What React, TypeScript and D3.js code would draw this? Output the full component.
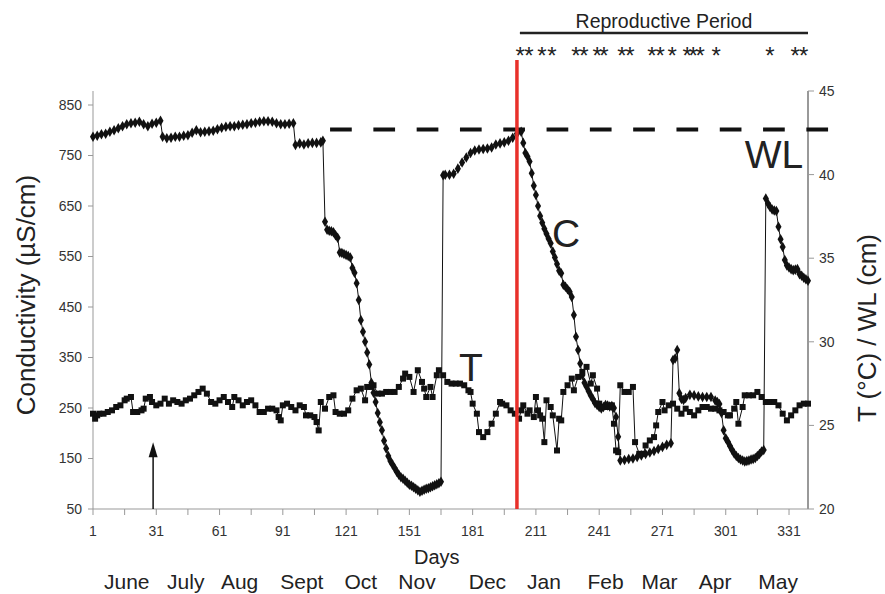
import React from 'react'
import * as d3 from 'd3'

// conductivity (µS/cm), [day, value]
const conductivity: [number, number][] = [
  [1, 787], [3, 789], [5, 792], [7, 793], [9, 797], [11, 800], [13, 804], [15, 808], [17, 812], [19, 814],
  [21, 815], [23, 817], [25, 812], [27, 808], [29, 813], [31, 815], [33, 819], [34, 787], [36, 784], [38, 785],
  [40, 787], [42, 787], [44, 789], [46, 790], [48, 795], [50, 800], [52, 796], [54, 797], [56, 798], [58, 799],
  [60, 802], [62, 805], [64, 807], [66, 808], [68, 808], [70, 810], [72, 811], [74, 812], [76, 814], [78, 815],
  [80, 817], [82, 818], [84, 818], [86, 817], [88, 814], [90, 812], [92, 812], [94, 813], [96, 814], [97, 771],
  [99, 774], [101, 772], [103, 774], [105, 775], [107, 775], [109, 776], [110, 779], [111, 619], [112, 603], [113, 601],
  [114, 600], [115, 598], [116, 592], [117, 587], [118, 558], [119, 557], [120, 555], [121, 553], [122, 551], [123, 548],
  [124, 527], [125, 518], [126, 497], [127, 464], [128, 424], [129, 401], [130, 381], [131, 360], [132, 336], [133, 300],
  [134, 280], [135, 262], [136, 240], [137, 222], [138, 206], [139, 185], [140, 170], [141, 155], [142, 145], [143, 138],
  [144, 131], [145, 124], [146, 118], [147, 113], [148, 110], [149, 106], [150, 102], [151, 98], [152, 96], [153, 93],
  [154, 90], [155, 87], [156, 84], [157, 86], [158, 88], [159, 90], [160, 91], [161, 93], [162, 95], [163, 97],
  [164, 99], [165, 101], [166, 104], [167, 711], [168, 712], [170, 712], [172, 714], [174, 724], [176, 736], [178, 746],
  [180, 755], [182, 760], [184, 762], [186, 763], [188, 764], [190, 766], [192, 772], [194, 774], [196, 776], [198, 779],
  [200, 785], [202, 793], [204, 797], [205, 775], [206, 755], [207, 748], [208, 738], [209, 715], [210, 690], [211, 672],
  [212, 650], [213, 630], [214, 617], [215, 605], [216, 595], [217, 585], [218, 576], [219, 560], [220, 548], [221, 535],
  [222, 522], [223, 517], [224, 494], [225, 490], [226, 485], [227, 480], [228, 470], [229, 434], [230, 391], [231, 365],
  [232, 338], [233, 315], [234, 300], [235, 292], [236, 283], [237, 275], [238, 268], [239, 260], [240, 256], [241, 252],
  [242, 249], [243, 252], [244, 256], [245, 255], [246, 253], [247, 254], [248, 250], [249, 232], [250, 193], [251, 146],
  [253, 147], [255, 149], [257, 150], [259, 153], [261, 156], [263, 159], [265, 162], [267, 165], [269, 169], [271, 173],
  [273, 177], [275, 180], [276, 345], [277, 348], [278, 365], [279, 279], [280, 268], [281, 266], [282, 270], [284, 276],
  [286, 275], [288, 273], [290, 272], [292, 272], [294, 272], [296, 265], [297, 262], [298, 258], [299, 240], [300, 206],
  [301, 190], [302, 183], [303, 175], [304, 167], [305, 160], [306, 155], [307, 151], [308, 148], [309, 146], [310, 144],
  [311, 145], [312, 146], [313, 148], [314, 149], [315, 151], [316, 155], [317, 159], [318, 164], [319, 167], [320, 665],
  [321, 655], [322, 648], [323, 643], [324, 641], [325, 640], [326, 609], [327, 584], [328, 569], [329, 543], [330, 532],
  [331, 528], [332, 525], [333, 523], [334, 524], [335, 525], [336, 515], [337, 512], [338, 508], [339, 505], [340, 502],
]

// temperature (°C), [day, value]
const temperature: [number, number][] = [
  [1, 25.7], [2, 25.4], [3, 25.6], [4, 25.7], [6, 25.7], [8, 25.8], [10, 25.9], [12, 26.1], [14, 26.2], [16, 26.5],
  [17, 26.6], [19, 26.7], [20, 25.8], [22, 25.8], [24, 25.9], [25, 26.0], [26, 26.6], [28, 26.7], [29, 26.4], [31, 26.2],
  [33, 26.3], [35, 26.6], [37, 26.3], [39, 26.5], [41, 26.4], [43, 26.3], [45, 26.5], [47, 26.6], [49, 26.8], [51, 27.0],
  [53, 27.2], [55, 26.9], [57, 26.4], [59, 26.3], [61, 26.5], [63, 26.7], [65, 26.4], [67, 26.1], [68, 26.7], [70, 26.5],
  [72, 26.2], [74, 26.4], [76, 26.5], [78, 26.2], [80, 25.8], [82, 25.8], [84, 26.0], [86, 26.0], [88, 25.9], [89, 25.5],
  [90, 25.3], [91, 26.2], [93, 26.3], [95, 26.1], [97, 25.9], [99, 26.2], [101, 26.1], [102, 25.6], [104, 25.6], [106, 25.5],
  [107, 25.2], [108, 24.7], [109, 26.4], [111, 26.0], [113, 26.7], [115, 26.8], [116, 25.8], [118, 25.7], [120, 25.7], [122, 25.9],
  [124, 26.6], [126, 27.1], [128, 27.2], [130, 26.5], [131, 27.3], [133, 27.3], [134, 27.4], [136, 26.9], [138, 26.9], [140, 27.0],
  [142, 27.0], [144, 27.0], [146, 27.3], [148, 27.8], [149, 28.1], [151, 27.9], [153, 27.0], [155, 28.3], [157, 27.6], [158, 27.2],
  [159, 26.7], [161, 27.3], [162, 26.7], [164, 28.0], [165, 28.3], [167, 28.0], [169, 27.6], [171, 27.5], [173, 27.5], [175, 27.5],
  [177, 27.4], [179, 27.1], [180, 27.0], [181, 26.3], [183, 25.7], [184, 24.6], [186, 24.3], [188, 24.6], [190, 25.1], [192, 25.7],
  [194, 26.4], [195, 26.3], [197, 26.2], [199, 25.9], [201, 25.7], [203, 25.4], [204, 25.9], [205, 26.2], [207, 25.7], [208, 25.9],
  [210, 25.5], [211, 26.7], [212, 25.9], [213, 25.6], [214, 25.4], [215, 24.0], [216, 26.5], [218, 26.1], [219, 25.6], [221, 23.5],
  [222, 25.4], [223, 25.3], [224, 27.0], [226, 27.4], [228, 27.8], [229, 27.1], [231, 27.9], [233, 28.2], [235, 28.5], [237, 27.5],
  [238, 28.0], [240, 27.2], [241, 26.3], [243, 26.1], [245, 26.1], [247, 26.2], [248, 25.1], [249, 23.5], [250, 23.4], [251, 27.4],
  [253, 27.0], [255, 27.0], [257, 27.3], [258, 24.0], [260, 23.3], [262, 23.3], [263, 23.8], [265, 24.1], [267, 24.3], [268, 25.0],
  [269, 25.8], [271, 26.4], [272, 25.9], [274, 26.2], [276, 26.3], [278, 26.0], [280, 25.7], [282, 26.0], [284, 25.8], [286, 25.6],
  [288, 25.9], [290, 26.1], [292, 26.1], [294, 26.0], [296, 26.0], [298, 25.9], [300, 25.8], [302, 25.6], [303, 25.6], [305, 26.0],
  [306, 26.4], [307, 25.1], [309, 26.1], [310, 26.8], [312, 26.8], [314, 26.8], [316, 27.0], [318, 26.7], [320, 26.4], [322, 26.4],
  [324, 26.4], [326, 26.2], [328, 25.7], [330, 25.3], [332, 25.6], [334, 25.9], [336, 26.2], [338, 26.3], [340, 26.3],
]

// water level (cm), dashed line
const waterLevel = 42.7
const wlStartDay = 113.4
const wlEndDay = 350.5

const reproStartDay = 203.4
const reproEndDay = 340
const spawningDays = [203.5, 207.7, 213.9, 218.6, 230, 233.8, 240, 243.3, 251.8, 255.6, 266, 269.9, 275.6, 282.7, 285.5, 288.9, 296.5, 322, 333.9, 338]
const redLineDay = 202
const arrowDay = 29.5

const dayTicks = [1, 31, 61, 91, 121, 151, 181, 211, 241, 271, 301, 331]
const dayMinorTicks = [1, 16, 31, 46, 61, 76, 91, 106, 121, 136, 151, 166, 181, 196, 211, 226, 241, 256, 271, 286, 301, 316, 331]
const condTicks = [50, 150, 250, 350, 450, 550, 650, 750, 850]
const rightTicks = [20, 25, 30, 35, 40, 45]
const months: [string, number][] = [
  ['June', 17], ['July', 45], ['Aug', 70.5], ['Sept', 100], ['Oct', 128], ['Nov', 154.6],
  ['Dec', 188], ['Jan', 214.8], ['Feb', 244], ['Mar', 269.6], ['Apr', 296], ['May', 325.8],
]

const W = 885
const H = 594
const font = '"Liberation Sans", Arial, sans-serif'

export default function App() {
  const x = d3.scaleLinear().domain([1, 340]).range([93, 808])
  const yC = d3.scaleLinear().domain([50, 850]).range([509, 105])
  const yR = d3.scaleLinear().domain([20, 45]).range([509, 91])
  const plotTop = yR(45)
  const plotBottom = yR(20)

  const cLine = d3.line<[number, number]>().x(d => x(d[0])).y(d => yC(d[1]))
  const tLine = d3.line<[number, number]>().x(d => x(d[0])).y(d => yR(d[1]))
  const diamond = d3.symbol().type(d3.symbolDiamond).size(32)() as string
  const square = d3.symbol().type(d3.symbolSquare).size(36)() as string

  const ax = x(arrowDay)
  const arrowTip = yC(182)

  return (
    <svg width={W} height={H} style={{ display: 'block', fontFamily: font }}>
      <style>{`body{margin:0}`}</style>
      <rect width={W} height={H} fill="#fff" />

      {/* left axis */}
      <line x1={x(1)} x2={x(1)} y1={plotTop} y2={plotBottom} stroke="#999" strokeWidth={1} />
      {condTicks.map(t => (
        <g key={t} transform={`translate(0,${yC(t)})`}>
          <line x1={x(1) - 5} x2={x(1)} stroke="#999" />
          <text x={x(1) - 11} dy="0.35em" textAnchor="end" fontSize={14} fill="#333">{t}</text>
        </g>
      ))}

      {/* right axis */}
      <line x1={x(340)} x2={x(340)} y1={plotTop} y2={plotBottom} stroke="#999" strokeWidth={2} />
      {rightTicks.map(t => (
        <g key={t} transform={`translate(0,${yR(t)})`}>
          <line x1={x(340)} x2={x(340) + 6} stroke="#999" />
          <text x={x(340) + 11} dy="0.35em" textAnchor="start" fontSize={14} fill="#333">{t}</text>
        </g>
      ))}

      {/* x axis */}
      <line x1={x(1)} x2={x(340)} y1={plotBottom} y2={plotBottom} stroke="#999" />
      {dayMinorTicks.map(t => (
        <line key={t} x1={x(t)} x2={x(t)} y1={plotBottom} y2={plotBottom + 6} stroke="#999" />
      ))}
      {dayTicks.map(t => (
        <text key={t} x={x(t)} y={plotBottom + 27} textAnchor="middle" fontSize={14} fill="#333">{t}</text>
      ))}
      <text x={x(164)} y={564} textAnchor="middle" fontSize={20} fill="#222">Days</text>
      {months.map(([m, d]) => (
        <text key={m} x={x(d)} y={589} textAnchor="middle" fontSize={21} fill="#222">{m}</text>
      ))}

      {/* axis titles */}
      <text transform={`translate(35,${(plotTop + plotBottom) / 2 - 5}) rotate(-90)`} textAnchor="middle" fontSize={26} fill="#222">
        Conductivity (µS/cm)
      </text>
      <text transform={`translate(876,${(plotTop + plotBottom) / 2 + 28}) rotate(-90)`} textAnchor="middle" fontSize={26} fill="#222">
        T (°C) / WL (cm)
      </text>

      {/* water level */}
      <line x1={x(wlStartDay)} x2={x(wlEndDay)} y1={yR(waterLevel)} y2={yR(waterLevel)}
        stroke="#111" strokeWidth={4} strokeDasharray="21.7,21.6" />

      {/* temperature */}
      <path d={tLine(temperature) ?? ''} fill="none" stroke="#111" strokeWidth={1} />
      {temperature.map(d => (
        <path key={'t' + d[0]} d={square} transform={`translate(${x(d[0])},${yR(d[1])})`} fill="#111" />
      ))}

      {/* conductivity */}
      <path d={cLine(conductivity) ?? ''} fill="none" stroke="#111" strokeWidth={1} />
      {conductivity.map(d => (
        <path key={'c' + d[0]} d={diamond} transform={`translate(${x(d[0])},${yC(d[1])})`} fill="#111" />
      ))}

      {/* start of reproductive period */}
      <line x1={x(redLineDay)} x2={x(redLineDay)} y1={60} y2={plotBottom} stroke="#e8302a" strokeWidth={3.5} />

      {/* arrow */}
      <line x1={ax} x2={ax} y1={plotBottom} y2={arrowTip + 10} stroke="#111" strokeWidth={1.5} />
      <path d={`M${ax},${arrowTip} L${ax - 4.5},${arrowTip + 15} L${ax + 4.5},${arrowTip + 15} Z`} fill="#111" />

      {/* reproductive period */}
      <text x={(x(reproStartDay) + x(reproEndDay)) / 2} y={27.5} textAnchor="middle" fontSize={19.5} fill="#222">
        Reproductive Period
      </text>
      <line x1={x(reproStartDay)} x2={x(reproEndDay)} y1={33} y2={33} stroke="#222" strokeWidth={2.5} />
      {spawningDays.map((d, i) => (
        <text key={i} x={x(d)} y={64} textAnchor="middle" fontSize={24} fill="#222">*</text>
      ))}

      {/* series labels */}
      <text x={x(323.9)} y={yR(40.4)} textAnchor="middle" fontSize={39} fill="#222">WL</text>
      <text x={x(225.3)} y={yC(569)} textAnchor="middle" fontSize={39} fill="#222">C</text>
      <text x={x(180.2)} y={yR(27.67)} textAnchor="middle" fontSize={39} fill="#222">T</text>
    </svg>
  )
}
